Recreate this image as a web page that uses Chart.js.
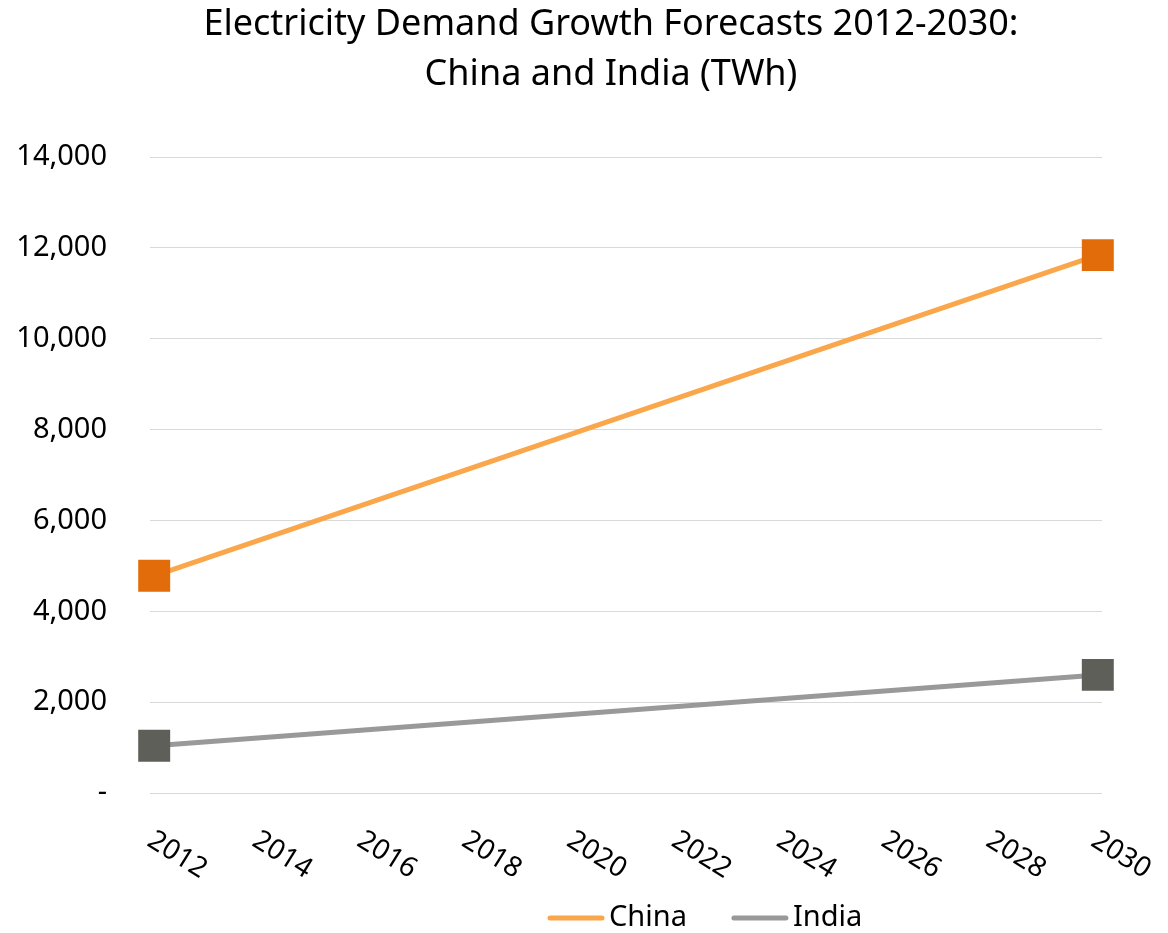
<!DOCTYPE html>
<html>
<head>
<meta charset="utf-8">
<script src="https://cdn.jsdelivr.net/npm/chart.js@4/dist/chart.umd.min.js"></script>
<style>
  html, body { margin: 0; padding: 0; background: #fff; }
  #wrap { width: 1168px; height: 933px; }
</style>
</head>
<body>
<div id="wrap"><canvas id="chart" width="1168" height="933"></canvas></div>
<script>
// Forecast endpoints (TWh)
const years = [2012, 2030];
const china = [4780, 11840];
const india = [1040, 2600];
const xTickLabels = ["2012", "2014", "2016", "2018", "2020", "2022", "2024", "2026", "2028", "2030"];
const yTicks = [0, 2000, 4000, 6000, 8000, 10000, 12000, 14000];
const titleLines = ["Electricity Demand Growth Forecasts 2012-2030:", "China and India (TWh)"];

const FONT = "'Noto Sans', 'Open Sans', sans-serif";

// Title: two centred lines, a bit left of the plot centre as in the original
const topTitle = {
  id: 'topTitle',
  afterDraw: function (chart) {
    const ctx = chart.ctx;
    ctx.save();
    ctx.font = "36px " + FONT;
    ctx.fillStyle = "#000";
    ctx.textAlign = "center";
    ctx.textBaseline = "middle";
    titleLines.forEach((line, i) => ctx.fillText(line, 611, 25 + i * 50));
    ctx.restore();
  }
};

// Draw the x labels slanted downwards to the right, like the original
const slantedXLabels = {
  id: 'slantedXLabels',
  afterDraw: function (chart) {
    const ctx = chart.ctx;
    const xScale = chart.scales.x;
    const top = chart.chartArea.bottom;
    ctx.save();
    ctx.font = "28px " + FONT;
    ctx.fillStyle = "#000";
    ctx.textAlign = "center";
    ctx.textBaseline = "middle";
    xTickLabels.forEach(label => {
      const px = xScale.getPixelForValue(Number(label));
      ctx.save();
      ctx.translate(px + 23, top + 62);
      ctx.rotate(Math.PI / 180 * 32);
      ctx.fillText(label, 0, 0);
      ctx.restore();
    });
    ctx.restore();
  }
};

// Legend along the bottom: a short line in the series colour, then its name
const bottomLegend = {
  id: 'bottomLegend',
  afterDraw: function (chart) {
    const ctx = chart.ctx;
    const y = 918;
    let x = 550;
    ctx.save();
    ctx.font = "29px " + FONT;
    ctx.textBaseline = "middle";
    ctx.textAlign = "left";
    chart.data.datasets.forEach(ds => {
      ctx.strokeStyle = ds.borderColor;
      ctx.lineWidth = 5;
      ctx.lineCap = "round";
      ctx.beginPath();
      ctx.moveTo(x, y);
      ctx.lineTo(x + 52, y);
      ctx.stroke();
      x += 57;
      ctx.fillStyle = "#000";
      ctx.fillText(ds.label, x + 2, y);
      x += ctx.measureText(ds.label).width + 49;
    });
    ctx.restore();
  }
};

const toPoints = (values) => values.map((v, i) => ({x: years[i], y: v}));

new Chart(document.getElementById("chart"), {
  type: 'line',
  data: {
    datasets: [
      {
        label: "China",
        data: toPoints(china),
        borderColor: "#FAA64B",
        backgroundColor: "#FAA64B",
        borderWidth: 5,
        pointStyle: 'rect',
        pointRadius: 22.6,
        pointBackgroundColor: "#E36C0A",
        pointBorderColor: "#E36C0A",
        pointBorderWidth: 0,
        tension: 0,
        clip: false
      },
      {
        label: "India",
        data: toPoints(india),
        borderColor: "#999999",
        backgroundColor: "#999999",
        borderWidth: 5,
        pointStyle: 'rect',
        pointRadius: 22.6,
        pointBackgroundColor: "#5E5F58",
        pointBorderColor: "#5E5F58",
        pointBorderWidth: 0,
        tension: 0,
        clip: false
      }
    ]
  },
  options: {
    responsive: false,
    animation: false,
    layout: {padding: {left: 10, right: 0, top: 157, bottom: 0}},
    plugins: {
      title: {display: false},
      legend: {display: false},
      tooltip: {enabled: false}
    },
    scales: {
      x: {
        type: 'linear',
        min: 2011.92,
        max: 2030.08,
        grid: {display: false},
        border: {display: false},
        ticks: {display: false},
        afterFit: function (scale) { scale.height = 140; }
      },
      y: {
        min: 0,
        max: 14000,
        afterBuildTicks: function (scale) {
          scale.ticks = yTicks.map(v => ({value: v}));
        },
        afterFit: function (scale) { scale.width = 140; },
        grid: {color: "#D9D9D9", lineWidth: 1, drawTicks: false},
        border: {display: false},
        ticks: {
          color: "#000",
          font: {family: FONT, size: 29},
          padding: 43,
          callback: v => v === 0 ? "-" : v.toLocaleString("en-US")
        }
      },
      // empty right-hand axis, only reserves the margin right of the plot
      yRight: {
        position: 'right',
        display: true,
        grid: {display: false},
        border: {display: false},
        ticks: {display: false},
        afterFit: function (scale) { scale.width = 66; }
      }
    }
  },
  plugins: [topTitle, slantedXLabels, bottomLegend]
});
</script>
</body>
</html>
